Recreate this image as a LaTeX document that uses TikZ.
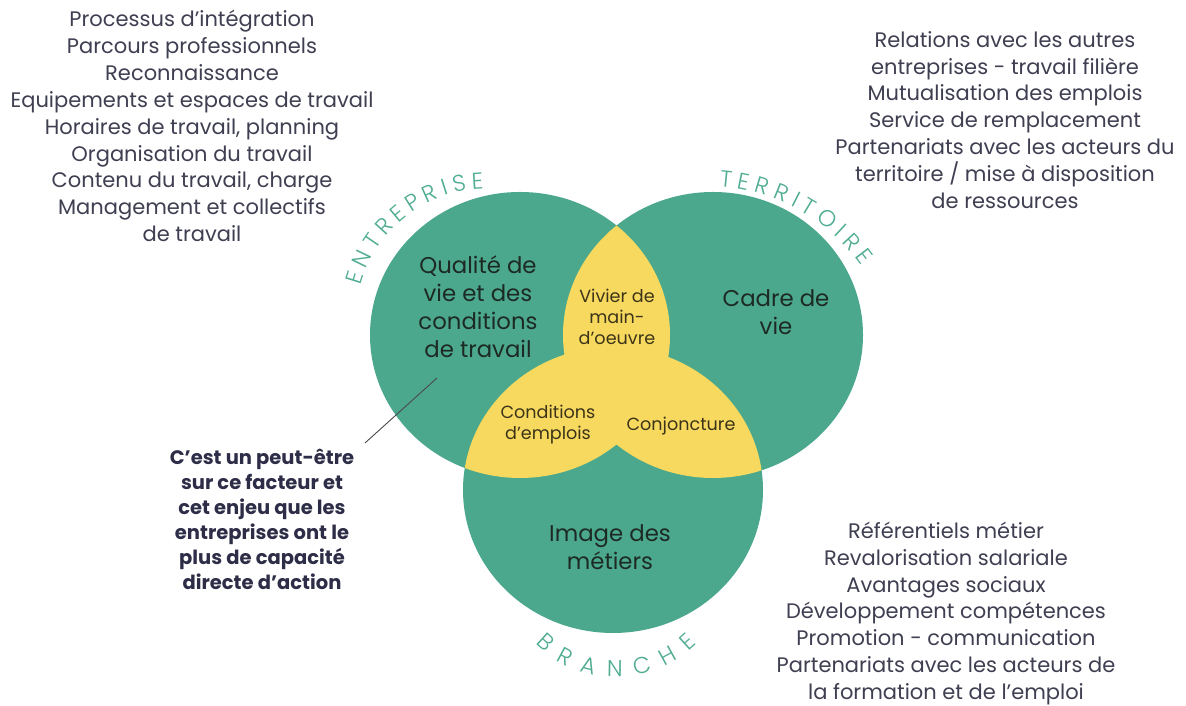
\documentclass[tikz,border=0pt]{standalone}
\usepackage{fontspec}
\setmainfont{Poppins}
\newfontfamily\arcfamily{Poppins Light}
\newcommand\arcfont{\arcfamily\fontsize{23}{23}\selectfont}
\usetikzlibrary{decorations.text}
\definecolor{vgreen}{RGB}{76,168,141}
\definecolor{vyellow}{RGB}{248,217,95}
\definecolor{labgreen}{RGB}{80,172,146}
\definecolor{circtext}{RGB}{29,42,36}
\definecolor{yeltext}{RGB}{59,52,24}
\definecolor{listtext}{RGB}{63,63,82}
\definecolor{boldtext}{RGB}{46,45,72}
\definecolor{linecol}{RGB}{74,74,74}
\tikzset{
  bigtxt/.style={inner sep=0pt, align=center, text=circtext, font=\fontsize{22.8}{28}\selectfont},
  yeltxt/.style={inner sep=0pt, align=center, text=yeltext, font=\fontsize{17.6}{21}\selectfont},
  listtxt/.style={inner sep=0pt, align=center, text=listtext, font=\fontsize{21}{26.9}\selectfont},
  boldtxt/.style={inner sep=0pt, align=center, text=boldtext, font=\bfseries\fontsize{19.5}{25}\selectfont},
  arclabel/.style={decorate, decoration={text along path, text align={fit to path}, text color=labgreen, text={|\arcfont|#1}}},
  ell/.style={x radius=150, y radius=143}
}
\begin{document}
\begin{tikzpicture}[x=1pt,y=1pt]
\useasboundingbox (0,0) rectangle (1186,706);
\fill[white] (0,0) rectangle (1186,706);
\coordinate (Lc) at (520,371);
\coordinate (Rc) at (713,371);
\coordinate (Bc) at (613,216);
% circles
\fill[vgreen] (Lc) ellipse[ell];
\fill[vgreen] (Rc) ellipse[ell];
\fill[vgreen] (Bc) ellipse[ell];
% pairwise overlaps
\begin{scope}
  \clip (Lc) ellipse[ell];
  \fill[vyellow] (Rc) ellipse[ell];
  \fill[vyellow] (Bc) ellipse[ell];
\end{scope}
\begin{scope}
  \clip (Rc) ellipse[ell];
  \fill[vyellow] (Bc) ellipse[ell];
\end{scope}
% curved labels
\coordinate (entc) at (486,387);
\coordinate (terc) at (706,329);
\coordinate (brac) at (616,143);
\path[arclabel=ENTREPRISE] (entc) ++(165:130) arc[start angle=165, end angle=91, radius=130];
\path[arclabel=TERRITOIRE] (terc) ++(86:191) arc[start angle=86, end angle=35.5, radius=191];
\path[arclabel=BRANCHE] (brac) ++(225:114) arc[start angle=225, end angle=315, radius=114];
% circle texts
\node[bigtxt] (qual) at (478,399.5) {Qualité de\\vie et des\\conditions\\de travail};
\node[bigtxt] (cadre) at (776,393.5) {Cadre de\\vie};
\node[bigtxt] (image) at (610,159) {Image des\\métiers};
\node[yeltxt] (vivier) at (617,389) {Vivier de\\main-\\d’oeuvre};
\node[yeltxt] (condemp) at (548,281.5) {Conditions\\d'emplois};
\node[yeltxt] (conj) at (681,280) {Conjoncture};
% lists
\node[listtxt] (entlist) at (192,580) {Processus d’intégration\\Parcours professionnels\\Reconnaissance\\Equipements et espaces de travail\\Horaires de travail, planning\\Organisation du travail\\Contenu du travail, charge\\Management et collectifs\\de travail};
\node[listtxt] (terlist) at (1005,586) {Relations avec les autres\\entreprises - travail filière\\Mutualisation des emplois\\Service de remplacement\\Partenariats avec les acteurs du\\territoire / mise à disposition\\de ressources};
\node[listtxt] (bralist) at (946,92.5) {Référentiels métier\\Revalorisation salariale\\Avantages sociaux\\Développement compétences\\Promotion - communication\\Partenariats avec les acteurs de\\la formation et de l’emploi};
\node[boldtxt] (note) at (262,186.5) {C’est un peut-être\\sur ce facteur et\\cet enjeu que les\\entreprises ont le\\plus de capacité\\directe d’action};
% pointer line
\coordinate (pA) at (365,263);
\coordinate (pB) at (437,328);
\draw[linecol, line width=0.9pt] (pA) -- (pB);
\end{tikzpicture}
\end{document}
